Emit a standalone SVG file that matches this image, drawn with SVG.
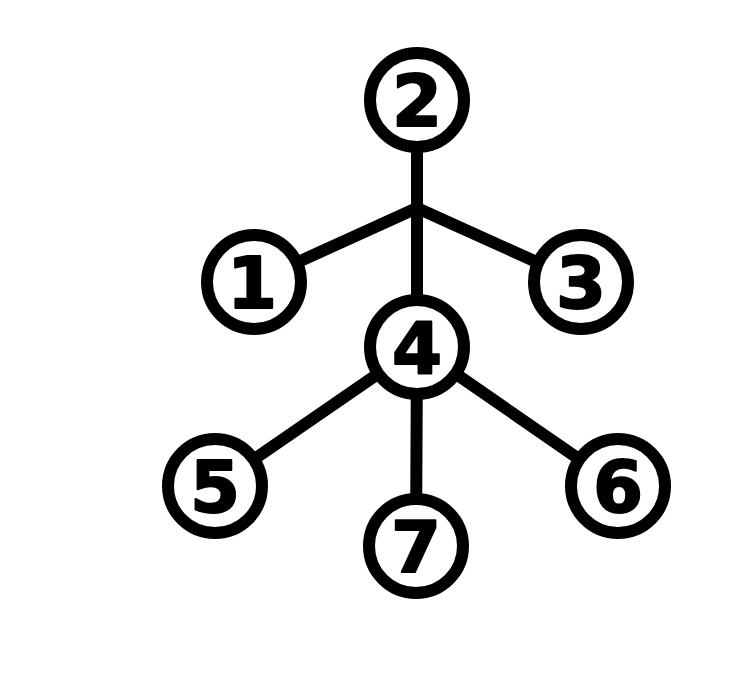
<svg xmlns="http://www.w3.org/2000/svg" width="734" height="698" viewBox="0 0 734 698">
<style>
.edge{stroke:#000;stroke-width:12;fill:none;stroke-linecap:butt}
.node circle{fill:#fff;stroke:#000;stroke-width:12}
.node text{font-family:"DejaVu Sans","Liberation Sans",sans-serif;font-weight:bold;font-size:72px;text-anchor:middle;fill:#000;stroke:#000;stroke-width:2;stroke-linejoin:round}
</style>
<rect width="734" height="698" fill="#fff"/>
<g id="connectors">
<line class="edge" x1="417" y1="100" x2="417" y2="347"/>
<line class="edge" x1="417" y1="208" x2="254" y2="282"/>
<line class="edge" x1="417" y1="208" x2="581" y2="282"/>
<line class="edge" x1="417" y1="347" x2="215" y2="486"/>
<line class="edge" x1="417" y1="347" x2="618" y2="486"/>
<line class="edge" x1="417" y1="347" x2="416" y2="546"/>
</g>
<g id="node2" class="node"><circle cx="417" cy="100" r="47"/><text x="417" y="126">2</text></g>
<g id="node1" class="node"><circle cx="254" cy="282" r="47"/><text x="252" y="308">1</text></g>
<g id="node3" class="node"><circle cx="581" cy="282" r="47"/><text x="581" y="308">3</text></g>
<g id="node4" class="node"><circle cx="417" cy="347" r="47"/><text x="417" y="373">4</text></g>
<g id="node5" class="node"><circle cx="215" cy="486" r="47"/><text x="215" y="512">5</text></g>
<g id="node6" class="node"><circle cx="618" cy="486" r="47"/><text x="618" y="512">6</text></g>
<g id="node7" class="node"><circle cx="416" cy="546" r="47"/><text x="416" y="572">7</text></g>
</svg>
